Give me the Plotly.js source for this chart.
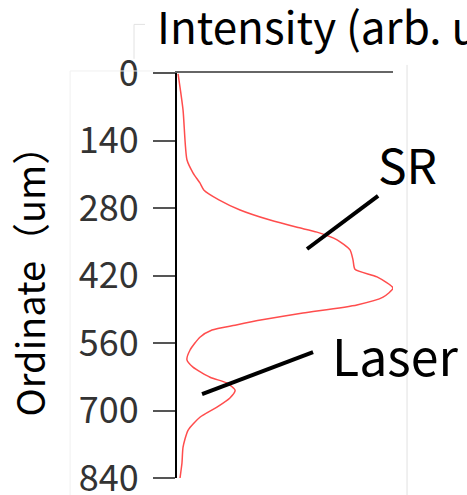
<!DOCTYPE html>
<html>
<head>
<meta charset="utf-8">
<script src="https://cdn.plot.ly/plotly-3.0.1.min.js"></script>
<style>html,body{margin:0;padding:0;background:#fff;}#chart{width:467px;height:495px;}</style>
</head>
<body>
<div id="chart"></div>
<script>
// Depth (um) and intensity (arb. units)
var depth = [2, 77, 180, 207, 228, 243, 263, 284, 305, 320, 330, 346, 367, 388, 407, 423, 446, 465, 481, 498, 512, 523, 533, 548, 575, 595, 610, 631, 643, 658, 674, 693, 714, 741, 776, 809, 840];
var intensity = [0.005, 0.028, 0.046, 0.074, 0.106, 0.125, 0.194, 0.292, 0.431, 0.556, 0.648, 0.741, 0.801, 0.815, 0.824, 0.926, 1.0, 0.954, 0.833, 0.583, 0.394, 0.269, 0.162, 0.106, 0.060, 0.046, 0.074, 0.153, 0.231, 0.269, 0.245, 0.185, 0.106, 0.051, 0.028, 0.023, 0.014];
var yTicks = [0, 140, 280, 420, 560, 700, 840];
var labels = ["SR", "Laser"];
// leader lines: [x0, y0, x1, y1] in data units
var srLine = [0.931, 255, 0.602, 365];
var laserLine = [0.116, 666, 0.630, 579];

var FONT = '"Noto Sans CJK JP", "Noto Sans", sans-serif';

var trace = {
  x: intensity, y: depth, type: 'scatter', mode: 'lines',
  line: {color: '#ff4d4d', width: 1.5, shape: 'spline', smoothing: 0.6},
  hoverinfo: 'skip'
};

function lineShape(a) {
  return {type: 'line', xref: 'x', yref: 'y', x0: a[0], y0: a[1], x1: a[2], y1: a[3],
          line: {color: '#000', width: 4}};
}

var labelPos = [[1.065, 0.778], [1.009, 0.306]];
var labelSize = [48, 50];
var annotations = labels.map(function (t, i) {
  return {text: t, x: labelPos[i][0], y: labelPos[i][1], xref: 'paper', yref: 'paper', showarrow: false,
          xanchor: 'center', yanchor: 'middle', font: {family: FONT, size: labelSize[i], color: '#000'}};
});
annotations.push({text: 'Intensity (arb. units)', xref: 'paper', yref: 'paper',
  x: -0.102, y: 1.035, xanchor: 'left', yanchor: 'bottom', showarrow: false,
  font: {family: FONT, size: 44, color: '#000'}});
annotations.push({text: 'Ordinate（um）', xref: 'paper', yref: 'paper',
  x: -0.69, y: 0.51, xanchor: 'center', yanchor: 'middle', textangle: -90, showarrow: false,
  font: {family: FONT, size: 38, color: '#000'}});

var faint = {color: '#e2e2e2', width: 1};
var shapes = [
  lineShape(srLine), lineShape(laserLine),
  {type: 'line', xref: 'paper', yref: 'paper', x0: 1.065, x1: 1.065, y0: -0.05, y1: 1.02, line: faint},
  {type: 'line', xref: 'paper', yref: 'paper', x0: -0.199, x1: -0.199, y0: 1.035, y1: 1.12, line: faint},
  {type: 'line', xref: 'paper', yref: 'paper', x0: -0.199, x1: -0.148, y0: 1.12, y1: 1.12, line: faint},
  {type: 'line', xref: 'paper', yref: 'paper', x0: -0.495, x1: -0.102, y0: 1.005, y1: 1.005, line: {color: '#f0f0f0', width: 1}},
  {type: 'line', xref: 'paper', yref: 'paper', x0: -0.495, x1: -0.495, y0: -0.05, y1: 1.005, line: {color: '#f0f0f0', width: 1}}
];

var layout = {
  width: 467, height: 495,
  margin: {l: 177, r: 74, t: 73, b: 17, pad: 0},
  paper_bgcolor: '#fff', plot_bgcolor: '#fff',
  showlegend: false,
  xaxis: {range: [0, 1], side: 'top', showline: true, linecolor: '#666', linewidth: 2,
          showgrid: false, zeroline: false, showticklabels: false, ticks: '', fixedrange: true},
  yaxis: {range: [840, 0], tickvals: yTicks, ticktext: yTicks.map(String),
          showline: true, linecolor: '#000', linewidth: 2, mirror: false,
          ticks: 'outside', ticklen: 22, tickwidth: 2, tickcolor: '#555',
          ticklabelstandoff: 7, ticklabeloverflow: 'allow', showgrid: false, zeroline: false,
          tickfont: {family: FONT, size: 36, color: '#333'}},
  shapes: shapes,
  annotations: annotations
};

Plotly.newPlot('chart', [trace], layout, {staticPlot: true, displayModeBar: false});
</script>
</body>
</html>
